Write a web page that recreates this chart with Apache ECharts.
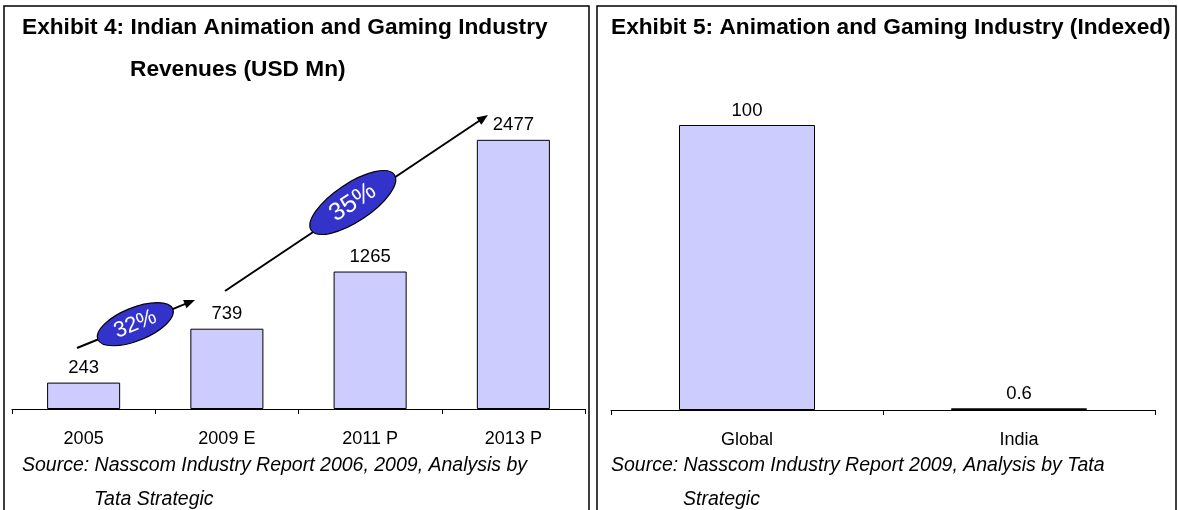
<!DOCTYPE html>
<html><head><meta charset="utf-8">
<script src="https://cdn.jsdelivr.net/npm/echarts@6/dist/echarts.min.js"></script>
<style>html,body{margin:0;padding:0;background:#fff}#c{width:1178px;height:510px}</style>
</head><body><div id="c"></div>
<script>
// Exhibit 4 data
const years = ['2005', '2009 E', '2011 P', '2013 P'];
const revenues = [243, 739, 1265, 2477];
// Exhibit 5 data
const regions = ['Global', 'India'];
const indexed = [100, 0.6];
// CAGR annotations
const cagrLabels = ['32%', '35%'];

const FONT = '"Liberation Sans", Arial, sans-serif';
const chart = echarts.init(document.getElementById('c'), null, {renderer: 'canvas'});

function arrow(x1, y1, x2, y2) {
  const dx = x2 - x1, dy = y2 - y1, len = Math.hypot(dx, dy);
  const ux = dx / len, uy = dy / len, nx = -uy, ny = ux;
  const L = 11, W = 4.5;
  return [
    {type: 'line', shape: {x1: x1, y1: y1, x2: x2 - ux * L * 0.7, y2: y2 - uy * L * 0.7}, style: {stroke: '#000', lineWidth: 2}, z: 10},
    {type: 'polygon', shape: {points: [[x2, y2], [x2 - ux * L + nx * W, y2 - uy * L + ny * W], [x2 - ux * L - nx * W, y2 - uy * L - ny * W]]}, style: {fill: '#000'}, z: 10}
  ];
}
function bubble(cx, cy, rx, ry, deg, text, fs) {
  const r = deg * Math.PI / 180;
  return [
    {type: 'ellipse', x: cx, y: cy, rotation: r, shape: {cx: 0, cy: 0, rx: rx, ry: ry}, style: {fill: '#3333CC', stroke: '#000', lineWidth: 1.2}, z: 11},
    {type: 'text', x: cx, y: cy, rotation: r, style: {text: text, fill: '#fff', font: fs + 'px ' + FONT, textAlign: 'center', textVerticalAlign: 'middle'}, z: 12}
  ];
}
function txt(x, y, s, font) {
  return {type: 'text', x: x, y: y, style: {text: s, fill: '#000', font: font, textAlign: 'left', textVerticalAlign: 'middle'}, z: 5};
}

const titleFont = 'bold 22.7px ' + FONT;
const srcFont = 'italic 19.5px ' + FONT;

const graphics = [
  {type: 'rect', shape: {x: 4, y: 6, width: 585, height: 520}, style: {fill: 'none', stroke: '#000', lineWidth: 1.5}, z: 1},
  {type: 'rect', shape: {x: 597, y: 6, width: 579, height: 520}, style: {fill: 'none', stroke: '#000', lineWidth: 1.5}, z: 1},
  txt(22, 28, 'Exhibit 4: Indian Animation and Gaming Industry', titleFont),
  txt(130, 70, 'Revenues (USD Mn)', titleFont),
  txt(611, 28, 'Exhibit 5: Animation and Gaming Industry (Indexed)', titleFont),
  txt(22, 466, 'Source: Nasscom Industry Report 2006, 2009, Analysis by', srcFont),
  txt(94, 500, 'Tata Strategic', srcFont),
  txt(611, 466, 'Source: Nasscom Industry Report 2009, Analysis by Tata', srcFont),
  txt(683, 500, 'Strategic', srcFont)
].concat(
  arrow(77, 348, 195, 300),
  arrow(225, 291, 488, 115),
  bubble(135.3, 324.2, 40.5, 16.5, 22, cagrLabels[0], 22),
  bubble(352.8, 202.5, 50, 19, 33.7, cagrLabels[1], 25)
);

const axisCommon = {
  type: 'category',
  axisLine: {lineStyle: {color: '#000', width: 1}},
  axisTick: {show: true, length: 5, lineStyle: {color: '#000'}},
  axisLabel: {color: '#000', fontFamily: FONT, fontSize: 18, margin: 21}
};
const barStyle = {color: '#CCCCFF', borderColor: '#000', borderWidth: 1};
const labelStyle = {show: true, position: 'top', distance: 5, color: '#000', fontFamily: FONT, fontSize: 18.5};

chart.setOption({
  animation: false,
  backgroundColor: '#fff',
  grid: [
    {left: 12, top: 83, width: 573, height: 326},
    {left: 611, top: 68, width: 544, height: 342}
  ],
  xAxis: [
    Object.assign({gridIndex: 0, data: years}, axisCommon),
    Object.assign({gridIndex: 1, data: regions}, axisCommon)
  ],
  yAxis: [
    {gridIndex: 0, type: 'value', min: 0, max: 3000, show: false},
    {gridIndex: 1, type: 'value', min: 0, max: 120, show: false}
  ],
  series: [
    {type: 'bar', xAxisIndex: 0, yAxisIndex: 0, data: revenues, barWidth: '51%', itemStyle: barStyle, label: labelStyle},
    {type: 'bar', xAxisIndex: 1, yAxisIndex: 1, data: indexed, barWidth: '50%', itemStyle: barStyle, label: labelStyle}
  ],
  graphic: graphics
});
</script></body></html>
